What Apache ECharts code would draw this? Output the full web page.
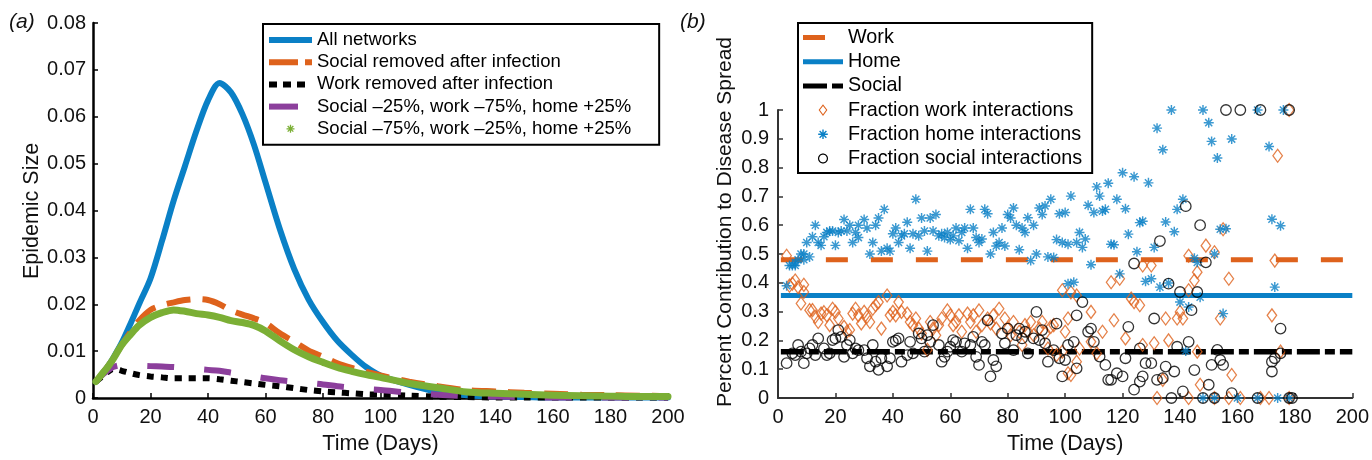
<!DOCTYPE html>
<html>
<head>
<meta charset="utf-8">
<script src="https://cdn.jsdelivr.net/npm/echarts/dist/echarts.min.js"></script>
<style>
  html, body { margin: 0; padding: 0; background: #fff; }
  #chart { width: 1372px; height: 460px; }
</style>
</head>
<body>
<div id="chart"></div>
<script>
// ---- Panel (a): epidemic size over time ----
const epiDays = [1, 3, 5, 7, 10, 13, 16, 20, 24, 28, 32, 36, 40, 44, 48, 52, 56, 60, 65, 70, 75, 80, 85, 90, 95, 100, 110, 120, 130, 140, 150, 160, 170, 180, 190, 200];
const allNetworks = [0.0035, 0.0050, 0.0066, 0.0085, 0.0118, 0.0158, 0.0200, 0.0255, 0.0335, 0.0420, 0.0495, 0.0570, 0.0635, 0.0672, 0.0652, 0.0605, 0.0540, 0.0460, 0.0360, 0.0275, 0.0210, 0.0162, 0.0122, 0.0092, 0.0066, 0.0048, 0.0028, 0.0013, 0.0006, 0.0003, 0.0002, 0.0001, 0.0001, 0.0001, 0.0001, 0.0001];
const socialRemoved = [0.0035, 0.0050, 0.0066, 0.0084, 0.0113, 0.0140, 0.0165, 0.0188, 0.0198, 0.0204, 0.0209, 0.0211, 0.0209, 0.0200, 0.0187, 0.0178, 0.0170, 0.0160, 0.0138, 0.0120, 0.0101, 0.0088, 0.0074, 0.0064, 0.0056, 0.0048, 0.0035, 0.0025, 0.0017, 0.0014, 0.0011, 0.0009, 0.0007, 0.0006, 0.0005, 0.0004];
const workRemoved = [0.0035, 0.0045, 0.0055, 0.0062, 0.0058, 0.0053, 0.0049, 0.0046, 0.0044, 0.0042, 0.0042, 0.0042, 0.0042, 0.0040, 0.0037, 0.0034, 0.0031, 0.0028, 0.0025, 0.0021, 0.0017, 0.0014, 0.0012, 0.0010, 0.0008, 0.0007, 0.0005, 0.0003, 0.0002, 0.0001, 0.0001, 0.0001, 0.0001, 0.0001, 0.0001, 0.0001];
const mixWorkCut = [0.0035, 0.0048, 0.0058, 0.0066, 0.0070, 0.0070, 0.0069, 0.0068, 0.0067, 0.0066, 0.0064, 0.0062, 0.0060, 0.0058, 0.0054, 0.0050, 0.0046, 0.0042, 0.0038, 0.0035, 0.0032, 0.0029, 0.0025, 0.0022, 0.0019, 0.0017, 0.0011, 0.0007, 0.0004, 0.0003, 0.0002, 0.0001, 0.0001, 0.0001, 0.0001, 0.0001];
const mixSocialCut = [0.0035, 0.0050, 0.0065, 0.0083, 0.0113, 0.0135, 0.0155, 0.0172, 0.0182, 0.0188, 0.0185, 0.0180, 0.0177, 0.0172, 0.0165, 0.0161, 0.0155, 0.0143, 0.0122, 0.0103, 0.0088, 0.0076, 0.0065, 0.0057, 0.0050, 0.0044, 0.0031, 0.0022, 0.0013, 0.0010, 0.0008, 0.0006, 0.0005, 0.0004, 0.0003, 0.0003];

// ---- Panel (b): contribution of each network ----
const refDays = [1, 200];
const workShare = 0.48;
const homeShare = 0.356;
const socialShare = 0.161;

const workFrac = [[3,0.494],[4,0.39],[5,0.397],[6,0.408],[7,0.385],[8,0.328],[9,0.393],[9,0.368],[11,0.305],[12,0.305],[13,0.282],[14,0.264],[15,0.293],[16,0.298],[17,0.287],[18,0.253],[19,0.31],[20,0.299],[21,0.276],[23,0.247],[24,0.23],[25,0.236],[26,0.293],[27,0.31],[28,0.287],[29,0.259],[30,0.299],[31,0.282],[32,0.264],[33,0.31],[34,0.322],[35,0.333],[36,0.241],[38,0.356],[39,0.287],[40,0.299],[41,0.287],[42,0.333],[43,0.299],[45,0.293],[46,0.264],[47,0.253],[48,0.276],[49,0.241],[50,0.224],[52,0.167],[53,0.264],[54,0.241],[55,0.218],[56,0.253],[57,0.276],[59,0.304],[60,0.287],[61,0.253],[62,0.264],[63,0.287],[64,0.23],[66,0.293],[67,0.264],[68,0.287],[69,0.23],[70,0.304],[71,0.253],[73,0.276],[74,0.259],[75,0.287],[76,0.241],[77,0.31],[79,0.276],[80,0.241],[81,0.218],[82,0.264],[84,0.23],[85,0.184],[86,0.253],[87,0.23],[88,0.264],[89,0.218],[91,0.241],[92,0.264],[93,0.224],[94,0.172],[95,0.247],[96,0.253],[97,0.149],[99,0.161],[100,0.23],[101,0.086],[99,0.374],[101,0.276],[102,0.367],[104,0.356],[104,0.126],[102,0.08],[105,0.172],[109,0.299],[109,0.195],[111,0.155],[113,0.23],[116,0.402],[117,0.27],[119,0.414],[121,0.207],[123,0.345],[124,0.333],[126,0.322],[127,0.46],[127,0.184],[130,0.46],[131,0.19],[132,0],[134,0.063],[135,0.276],[136,0.2],[139,0.276],[140,0.299],[141,0.276],[143,0.494],[143,0.374],[143,0],[145,0.408],[146,0.437],[146,0.161],[147,0.046],[149,0.529],[152,0.506],[152,0],[154,0.276],[155,0.586],[157,0.414],[157,0],[158,0.08],[161,0],[168,0],[171,0],[172,0.287],[173,0.477],[174,0.841],[175,0.161],[178,1.0],[178,0]];

const homeFrac = [[3,0.39],[4,0.46],[5,0.46],[6,0.46],[6,0.47],[7,0.48],[8,0.50],[9,0.48],[9,0.50],[10,0.54],[11,0.49],[12,0.56],[13,0.60],[14,0.54],[15,0.53],[16,0.56],[17,0.575],[18,0.58],[19,0.58],[20,0.53],[21,0.575],[22,0.58],[23,0.62],[24,0.58],[25,0.60],[26,0.54],[27,0.575],[28,0.60],[28,0.557],[30,0.62],[31,0.59],[32,0.50],[33,0.54],[34,0.60],[35,0.625],[36,0.51],[37,0.655],[38,0.52],[39,0.51],[40,0.57],[41,0.59],[42,0.54],[43,0.563],[44,0.57],[45,0.61],[46,0.52],[47,0.57],[48,0.69],[49,0.563],[50,0.625],[51,0.58],[52,0.51],[53,0.625],[54,0.58],[55,0.637],[56,0.563],[57,0.57],[58,0.557],[59,0.575],[60,0.55],[61,0.563],[62,0.59],[63,0.546],[64,0.575],[65,0.59],[66,0.52],[67,0.655],[68,0.59],[69,0.557],[70,0.54],[71,0.552],[72,0.655],[73,0.64],[74,0.50],[75,0.575],[76,0.528],[77,0.54],[78,0.59],[79,0.528],[80,0.637],[81,0.625],[82,0.66],[83,0.60],[84,0.515],[85,0.59],[86,0.575],[87,0.626],[88,0.477],[89,0.60],[90,0.50],[91,0.66],[92,0.637],[93,0.667],[94,0.49],[95,0.69],[96,0.488],[97,0.55],[98,0.64],[99,0.54],[100,0.644],[101,0.397],[101,0.534],[102,0.701],[103,0.402],[104,0.54],[105,0.575],[106,0.523],[107,0.552],[108,0.669],[109,0.463],[110,0.644],[111,0.733],[112,0.701],[113,0.649],[114,0.655],[115,0.746],[116,0.534],[117,0.532],[118,0.69],[119,0.431],[120,0.782],[121,0.657],[122,0.569],[124,0.768],[125,0.508],[126,0.609],[127,0.614],[128,0.405],[129,0.747],[130,0.414],[131,0.523],[132,0.937],[133,0.385],[134,0.862],[135,0.611],[136,0.399],[137,1.0],[138,0.577],[139,0.655],[140,0.333],[141,0.69],[142,0.163],[143,0.316],[145,0.485],[146,0.471],[147,0.35],[148,1.0],[148,0],[150,0.956],[151,0.891],[152,0.5],[152,0],[153,0.833],[154,0.586],[155,0.293],[156,0.588],[158,0.899],[160,0],[167,1.0],[167,0],[171,0.873],[172,0.621],[173,0.385],[174,0],[175,0.598],[176,1.0],[178,0]];

const socialFrac = [[3,0.121],[5,0.155],[6,0.149],[7,0.184],[8,0.161],[9,0.121],[10,0.155],[11,0.172],[12,0.184],[13,0.149],[14,0.207],[16,0.172],[17,0.149],[18,0.155],[19,0.201],[20,0.207],[21,0.236],[22,0.212],[23,0.143],[24,0.184],[25,0.201],[26,0.155],[27,0.172],[28,0.166],[30,0.166],[31,0.138],[32,0.11],[33,0.184],[34,0.126],[35,0.098],[36,0.138],[38,0.11],[39,0.138],[40,0.195],[41,0.2],[42,0.207],[43,0.126],[45,0.149],[46,0.195],[47,0.155],[49,0.224],[50,0.207],[51,0.161],[52,0.218],[53,0.195],[54,0.253],[56,0.184],[57,0.126],[58,0.143],[59,0.161],[60,0.178],[61,0.201],[62,0.195],[64,0.161],[65,0.19],[67,0.184],[68,0.212],[69,0.143],[70,0.115],[71,0.195],[72,0.184],[73,0.27],[74,0.075],[75,0.132],[76,0.11],[78,0.224],[79,0.19],[80,0.241],[82,0.166],[83,0.218],[84,0.241],[85,0.207],[86,0.23],[87,0.155],[89,0.207],[90,0.299],[91,0.201],[92,0.236],[93,0.19],[94,0.126],[96,0.166],[97,0.258],[98,0.138],[99,0.075],[100,0.132],[101,0.184],[103,0.195],[104,0.103],[104,0.287],[106,0.333],[108,0.23],[109,0.241],[110,0.195],[112,0.144],[114,0.115],[115,0.063],[116,0.063],[118,0.086],[120,0.075],[121,0.138],[122,0.247],[124,0.029],[124,0.467],[126,0.172],[126,0.057],[127,0.075],[128,0.121],[130,0.121],[131,0.276],[132,0.063],[133,0.545],[134,0.069],[135,0.109],[136,0.397],[137,0],[138,0.092],[139,0.178],[140,0.368],[141,0.023],[142,0.666],[143,0.195],[144,0.305],[145,0.097],[146,0.368],[147,0.6],[148,0],[149,0.471],[150,0.046],[151,0.115],[152,0],[153,0.167],[154,0.132],[155,0.115],[156,1.0],[158,0.017],[161,1.0],[167,0],[168,1.0],[172,0.126],[172,0.092],[173,0.138],[175,0.155],[175,0.241],[178,1.0],[178,0],[179,0]];

// ---- Styling ----
const FONT = '"Liberation Sans", Arial, Helvetica, sans-serif';
const C_BLUE = '#0A80C6';
const C_ORANGE = '#DE621C';
const C_BLACK = '#000000';
const C_PURPLE = '#8C3F9C';
const C_GREEN = '#7BAF35';

// Filled asterisk made of four thin bars
function asteriskPath(cx, cy, r, t) {
  let d = '';
  [0, 45, 90, 135].forEach(a => {
    const c = Math.cos(a * Math.PI / 180), s = Math.sin(a * Math.PI / 180);
    const pts = [[-r, -t], [r, -t], [r, t], [-r, t]].map(([x, y]) => [cx + x * c - y * s, cy + x * s + y * c]);
    d += 'M' + pts.map(p => p[0].toFixed(2) + ',' + p[1].toFixed(2)).join('L') + 'Z';
  });
  return d;
}
// Polygon outline rings (outer clockwise, inner reversed) for hollow legend markers
function ringPath(outer, inner) {
  const f = pts => pts.map(p => p[0].toFixed(2) + ',' + p[1].toFixed(2)).join('L');
  return 'M' + f(outer) + 'Z' + 'M' + f(inner.slice().reverse()) + 'Z';
}
function circlePts(cx, cy, r) {
  const pts = [];
  for (let i = 0; i < 32; i++) {
    const a = i / 32 * Math.PI * 2;
    pts.push([cx + r * Math.cos(a), cy + r * Math.sin(a)]);
  }
  return pts;
}
function diamondPts(cx, cy, w, h) {
  return [[cx, cy - h], [cx + w, cy], [cx, cy + h], [cx - w, cy]];
}

// Legend icon paths: anchored so their box matches itemWidth x itemHeight
const anchorA = 'M0,0L0,0M43,8L43,8';
const anchorB = 'M0,0L0,0M40,12L40,12';
const iconsA = {
  solid: 'path://' + anchorA + 'M0,1H43V7H0Z',
  dashed: 'path://' + anchorA + 'M0,1H29V7H0ZM36,1H43V7H36Z',
  dotted: 'path://' + anchorA + 'M0,1H8V7H0ZM14,1H22V7H14ZM28,1H36V7H28Z',
  longDash: 'path://' + anchorA + 'M0,1H29V7H0Z',
  star: 'path://' + anchorA + asteriskPath(21.5, 4, 4, 0.65)
};
const iconsB = {
  dashed: 'path://' + anchorB + 'M0,3.5H22V8.5H0Z',
  solid: 'path://' + anchorB + 'M0,3.5H40V8.5H0Z',
  dashDot: 'path://' + anchorB + 'M0,3.5H24V8.5H0ZM29,3.5H40V8.5H29Z',
  diamond: 'path://' + anchorB + ringPath(diamondPts(20, 6, 4.4, 5.8), diamondPts(20, 6, 3.1, 4.1)),
  star: 'path://' + anchorB + asteriskPath(20, 6, 4.8, 0.7),
  circle: 'path://' + anchorB + ringPath(circlePts(20, 6, 5), circlePts(20, 6, 3.8))
};
const starSymbol = 'path://' + asteriskPath(10, 10, 10, 1.45);

const zip = (xs, ys) => xs.map((x, i) => [x, ys[i]]);
const flat = v => refDays.map(d => [d, v]);

function legendItem(name, icon, color) {
  return { name, icon, itemStyle: { color, borderWidth: 0, borderColor: 'transparent', opacity: 1 } };
}

function xAxisFor(gridIndex, lineColor, lineWidth) {
  return {
    type: 'value', gridIndex, min: 0, max: 200, interval: 20,
    axisLine: { show: true, onZero: false, lineStyle: { color: lineColor, width: lineWidth } },
    axisTick: { show: true, inside: true, length: 5, lineStyle: { color: lineColor, width: 1.5 } },
    axisLabel: { fontFamily: FONT, fontSize: 20, color: '#111', margin: 9 },
    splitLine: { show: false },
    name: 'Time (Days)', nameLocation: 'middle', nameGap: 35,
    nameTextStyle: { fontFamily: FONT, fontSize: 21.5, color: '#111' }
  };
}

const chart = echarts.init(document.getElementById('chart'), null, { renderer: 'canvas' });

const option = {
  animation: false,
  backgroundColor: '#ffffff',
  grid: [
    { left: 93, top: 23, width: 575, height: 377 },
    { left: 778, top: 110, width: 577, height: 290 }
  ],
  xAxis: [xAxisFor(0, '#000', 2.5), xAxisFor(1, '#333', 2)],
  yAxis: [
    {
      type: 'value', gridIndex: 0, min: 0, max: 0.08, interval: 0.01,
      axisLine: { show: true, lineStyle: { color: '#000', width: 2.5 } },
      axisTick: { show: true, inside: true, length: 5, lineStyle: { color: '#000', width: 1.5 } },
      axisLabel: { fontFamily: FONT, fontSize: 20, color: '#111', margin: 7 },
      splitLine: { show: false }
    },
    {
      type: 'value', gridIndex: 1, min: 0, max: 1, interval: 0.1,
      axisLine: { show: true, lineStyle: { color: '#333', width: 2 } },
      axisTick: { show: true, inside: true, length: 5, lineStyle: { color: '#333', width: 1.5 } },
      axisLabel: { fontFamily: FONT, fontSize: 20, color: '#111', margin: 9 },
      splitLine: { show: false }
    }
  ],
  legend: [
    {
      orient: 'vertical', left: 263, top: 24, align: 'left',
      itemWidth: 43, itemHeight: 8, itemGap: 2.2,
      padding: [6, 28, 6, 6],
      borderColor: '#000', borderWidth: 2, backgroundColor: '#fff',
      selectedMode: false,
      textStyle: { fontFamily: FONT, fontSize: 18.5, lineHeight: 20, color: '#000' },
      data: [
        legendItem('All networks', iconsA.solid, C_BLUE),
        legendItem('Social removed after infection', iconsA.dashed, C_ORANGE),
        legendItem('Work removed after infection', iconsA.dotted, C_BLACK),
        legendItem('Social –25%, work –75%, home +25%', iconsA.longDash, C_PURPLE),
        legendItem('Social –75%, work –25%, home +25%', iconsA.star, C_GREEN)
      ]
    },
    {
      orient: 'vertical', left: 798, top: 23, align: 'left',
      itemWidth: 40, itemHeight: 12, itemGap: 3.2,
      padding: [4, 10, 4, 5],
      borderColor: '#000', borderWidth: 2, backgroundColor: '#fff',
      selectedMode: false,
      textStyle: { fontFamily: FONT, fontSize: 19.8, lineHeight: 21, color: '#000' },
      data: [
        legendItem('Work', iconsB.dashed, C_ORANGE),
        legendItem('Home', iconsB.solid, C_BLUE),
        legendItem('Social', iconsB.dashDot, C_BLACK),
        legendItem('Fraction work interactions', iconsB.diamond, C_ORANGE),
        legendItem('Fraction home interactions', iconsB.star, C_BLUE),
        legendItem('Fraction social interactions', iconsB.circle, C_BLACK)
      ]
    }
  ],
  graphic: [
    { type: 'text', left: 9, top: 12, style: { text: '(a)', font: 'italic 21px ' + FONT, fill: '#111' } },
    { type: 'text', left: 680, top: 12, style: { text: '(b)', font: 'italic 21px ' + FONT, fill: '#111' } },
    { type: 'text', x: 32, y: 211, rotation: Math.PI / 2,
      style: { text: 'Epidemic Size', font: '21.5px ' + FONT, fill: '#111', align: 'center', verticalAlign: 'middle' } },
    { type: 'text', x: 725, y: 222, rotation: Math.PI / 2,
      style: { text: 'Percent Contribution to Disease Spread', font: '21px ' + FONT, fill: '#111', align: 'center', verticalAlign: 'middle' } }
  ],
  series: [
    // Panel (a)
    { type: 'line', name: 'All networks', xAxisIndex: 0, yAxisIndex: 0, data: zip(epiDays, allNetworks),
      symbol: 'none', smooth: 0.3, color: C_BLUE, lineStyle: { color: C_BLUE, width: 6, cap: 'round', join: 'round' }, z: 2 },
    { type: 'line', name: 'Social removed after infection', xAxisIndex: 0, yAxisIndex: 0, data: zip(epiDays, socialRemoved),
      symbol: 'none', smooth: 0.3, color: C_ORANGE, lineStyle: { color: C_ORANGE, width: 6, type: [24, 12], cap: 'butt' }, z: 3 },
    { type: 'line', name: 'Work removed after infection', xAxisIndex: 0, yAxisIndex: 0, data: zip(epiDays, workRemoved),
      symbol: 'none', smooth: 0.3, color: C_BLACK, lineStyle: { color: C_BLACK, width: 6, type: [7, 7], cap: 'butt' }, z: 4 },
    { type: 'line', name: 'Social –25%, work –75%, home +25%', xAxisIndex: 0, yAxisIndex: 0, data: zip(epiDays, mixWorkCut),
      symbol: 'none', smooth: 0.3, color: C_PURPLE, lineStyle: { color: C_PURPLE, width: 6, type: [27, 30], cap: 'butt' }, z: 5 },
    { type: 'line', name: 'Social –75%, work –25%, home +25%', xAxisIndex: 0, yAxisIndex: 0, data: zip(epiDays, mixSocialCut),
      symbol: 'none', smooth: 0.3, color: C_GREEN, lineStyle: { color: C_GREEN, width: 7, cap: 'round', join: 'round' }, z: 6 },

    // Panel (b): mean contributions
    { type: 'line', name: 'Work', xAxisIndex: 1, yAxisIndex: 1, data: flat(workShare),
      symbol: 'none', color: C_ORANGE, lineStyle: { color: C_ORANGE, width: 5, type: [22, 23], cap: 'butt' }, z: 2 },
    { type: 'line', name: 'Home', xAxisIndex: 1, yAxisIndex: 1, data: flat(homeShare),
      symbol: 'none', color: C_BLUE, lineStyle: { color: C_BLUE, width: 5, cap: 'butt' }, z: 2 },
    { type: 'line', name: 'Social', xAxisIndex: 1, yAxisIndex: 1, data: flat(socialShare),
      symbol: 'none', color: C_BLACK, lineStyle: { color: C_BLACK, width: 5.5, type: [23, 5, 10, 5], cap: 'butt' }, z: 2 },

    // Panel (b): per-day fractions
    { type: 'scatter', name: 'Fraction work interactions', xAxisIndex: 1, yAxisIndex: 1, data: workFrac, clip: false,
      symbol: 'diamond', symbolSize: [9.5, 13],
      itemStyle: { color: 'rgba(0,0,0,0)', borderColor: C_ORANGE, borderWidth: 1.3 }, z: 3 },
    { type: 'scatter', name: 'Fraction home interactions', xAxisIndex: 1, yAxisIndex: 1, data: homeFrac, clip: false,
      symbol: starSymbol, symbolSize: 10,
      itemStyle: { color: C_BLUE, borderWidth: 0 }, z: 4 },
    { type: 'scatter', name: 'Fraction social interactions', xAxisIndex: 1, yAxisIndex: 1, data: socialFrac, clip: false,
      symbol: 'circle', symbolSize: 10.5,
      itemStyle: { color: 'rgba(0,0,0,0)', borderColor: C_BLACK, borderWidth: 1.3 }, z: 5 }
  ]
};

chart.setOption(option);
</script>
</body>
</html>
